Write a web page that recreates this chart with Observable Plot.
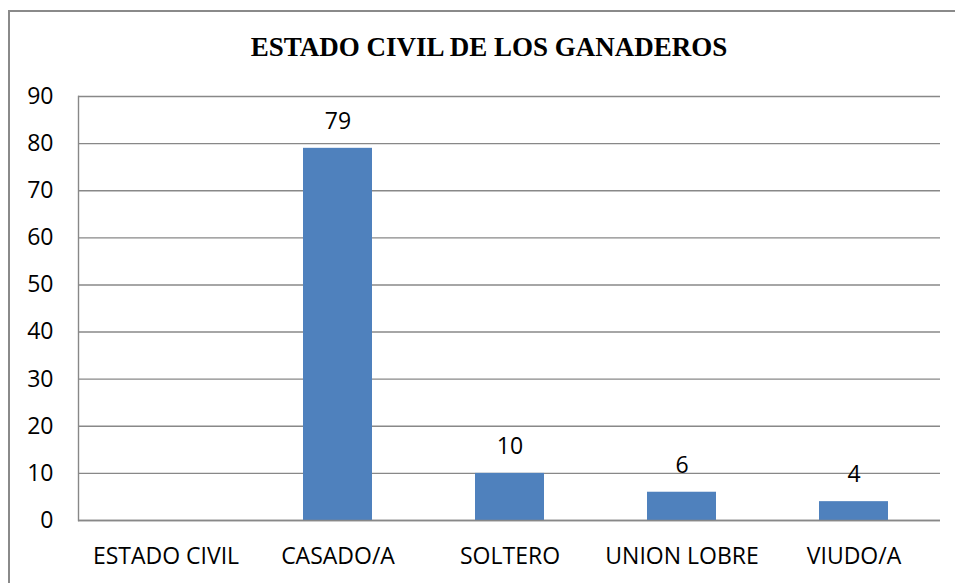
<!DOCTYPE html>
<html>
<head>
<meta charset="utf-8">
<script src="https://cdn.jsdelivr.net/npm/d3@7"></script>
<script src="https://cdn.jsdelivr.net/npm/@observablehq/plot@0.6"></script>
<style>
  html, body { margin: 0; padding: 0; background: #fff; }
  #wrap { position: relative; width: 955px; height: 583px; overflow: hidden; background: #fff; }
  #border { position: absolute; left: 8px; top: 10px; width: 1200px; height: 1200px;
            border-left: 2px solid #8a8a8a; border-top: 2px solid #8a8a8a; box-sizing: border-box; pointer-events: none; }
  #title { height: 70px; box-sizing: border-box; padding-top: 34px; padding-left: 23px; text-align: center;
           font-family: "Liberation Serif", "Times New Roman", serif; font-weight: bold; font-size: 27px; line-height: 27px; color: #000; }
  #chart svg { display: block; }
</style>
</head>
<body>
<div id="wrap">
  <div id="title">ESTADO CIVIL DE LOS GANADEROS</div>
  <div id="chart"></div>
  <div id="border"></div>
</div>
<script>
const categories = ["ESTADO CIVIL", "CASADO/A", "SOLTERO", "UNION LOBRE", "VIUDO/A"];
const values = [null, 79, 10, 6, 4];
const yTicks = [0, 10, 20, 30, 40, 50, 60, 70, 80, 90];

const data = categories.map((c, i) => ({category: c, value: values[i]}));
const barData = data.filter(d => d.value != null);

const chart = Plot.plot({
  width: 955,
  height: 513,
  marginLeft: 78,
  marginRight: 15,
  marginTop: 26,
  marginBottom: 63,
  style: {fontFamily: "'Open Sans', sans-serif", fontSize: "23px", color: "#000", background: "#fff"},
  x: {domain: categories, paddingInner: 0.6, paddingOuter: 0.3, label: null},
  y: {domain: [0, 90], ticks: yTicks, label: null},
  marks: [
    Plot.ruleY(yTicks, {stroke: "#888", strokeWidth: 1.4}),
    Plot.axisY({ticks: yTicks, tickSize: 0, tickPadding: 25, label: null, fontSize: 23, fill: "#000"}),
    Plot.axisX({tickSize: 0, tickPadding: 27, label: null, fontSize: 23, fill: "#000"}),
    Plot.barY(barData, {x: "category", y: "value", fill: "#4F81BD"}),
    Plot.frame({anchor: "left", stroke: "#888", strokeWidth: 1.4}),
    Plot.ruleY([0], {stroke: "#888", strokeWidth: 1.4}),
    Plot.text(barData, {x: "category", y: "value", text: d => String(d.value), dy: -27, fontSize: 23, fill: "#000"})
  ]
});
document.getElementById("chart").appendChild(chart);
</script>
</body>
</html>
